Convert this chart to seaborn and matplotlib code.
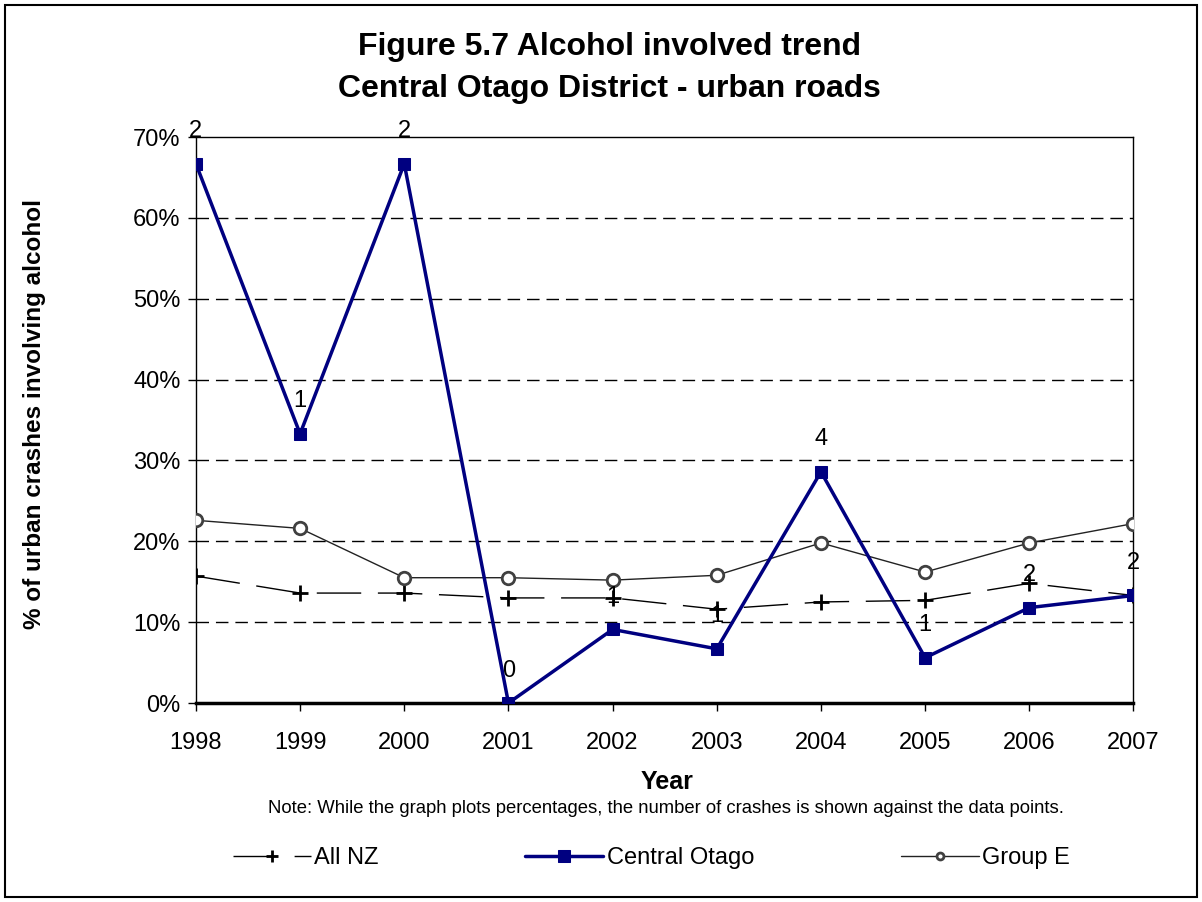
import numpy as np
import pandas as pd
import seaborn as sns
import matplotlib.pyplot as plt
from matplotlib.patches import Rectangle
from matplotlib.ticker import PercentFormatter

# data
years = [1998, 1999, 2000, 2001, 2002, 2003, 2004, 2005, 2006, 2007]
all_nz = [15.7, 13.6, 13.6, 13.0, 13.0, 11.6, 12.5, 12.7, 14.8, 13.3]
central_otago = [66.7, 33.3, 66.7, 0.0, 9.1, 6.7, 28.6, 5.6, 11.8, 13.3]
group_e = [22.6, 21.6, 15.5, 15.5, 15.2, 15.8, 19.8, 16.2, 19.8, 22.2]
crash_counts = [2, 1, 2, 0, 1, 1, 4, 1, 2, 2]

df = pd.DataFrame({
    "year": years,
    "All NZ": all_nz,
    "Central Otago": central_otago,
    "Group E": group_e,
})

sns.set_style("white")
plt.rcParams["font.family"] = ["Liberation Sans", "DejaVu Sans"]
plt.rcParams["text.color"] = "black"
plt.rcParams["axes.labelcolor"] = "black"
plt.rcParams["xtick.color"] = "black"
plt.rcParams["ytick.color"] = "black"

NZ_DASH = (32, 12)

fig = plt.figure(figsize=(12.02, 9.02), dpi=100)
ax = fig.add_axes([0.163, 0.2206, 0.78, 0.6274])

# horizontal grid
for v in range(10, 70, 10):
    ax.axhline(v, color="black", lw=1, ls=(0, (9, 5)), zorder=0)

sns.lineplot(data=df, x="year", y="All NZ", ax=ax, color="black", lw=1,
             marker="+", markersize=11, markeredgewidth=2, markeredgecolor="black",
             label="All NZ", zorder=2)
ax.lines[-1].set_dashes(NZ_DASH)

sns.lineplot(data=df, x="year", y="Group E", ax=ax, color="#222222", lw=1,
             marker="o", markersize=9, markerfacecolor="white",
             markeredgecolor="#404040", markeredgewidth=2, label="Group E", zorder=3)

sns.lineplot(data=df, x="year", y="Central Otago", ax=ax, color="#000080", lw=2.5,
             marker="s", markersize=9, markeredgecolor="#000080",
             label="Central Otago", zorder=4)

# crash counts above the Central Otago points
for x, y, n in zip(years, central_otago, crash_counts):
    ax.annotate(str(n), (x, y), xytext=(0, 19), textcoords="offset points",
                ha="center", va="baseline", fontsize=17, zorder=5,
                annotation_clip=False)

ax.set_xlim(1998, 2007)
ax.set_ylim(0, 70)
ax.set_xticks(years)
ax.set_yticks(range(0, 80, 10))
ax.yaxis.set_major_formatter(PercentFormatter(decimals=0))
ax.tick_params(axis="both", direction="out", length=6, width=1, labelsize=17,
               bottom=True, left=True, color="black")
ax.tick_params(axis="x", pad=15)
ax.tick_params(axis="y", pad=5)
for side in ["left", "right", "top"]:
    ax.spines[side].set_color("black")
    ax.spines[side].set_linewidth(1)
ax.spines["bottom"].set_color("black")
ax.spines["bottom"].set_linewidth(2.5)

ax.set_xlabel("Year", fontsize=18, fontweight="bold")
ax.set_ylabel("% of urban crashes involving alcohol", fontsize=17.5, fontweight="bold")
ax.xaxis.set_label_coords(0.503, -0.118)
ax.yaxis.set_label_coords(-0.16, 0.51)

fig.text(0.5067, 0.939, "Figure 5.7 Alcohol involved trend",
         ha="center", va="baseline", fontsize=23, fontweight="bold")
fig.text(0.5067, 0.8925, "Central Otago District - urban roads",
         ha="center", va="baseline", fontsize=23, fontweight="bold")
fig.text(0.554, 0.104,
         "Note: While the graph plots percentages, the number of crashes is shown against the data points.",
         ha="center", va="center", fontsize=13.3)

handles, labels = ax.get_legend_handles_labels()
order = [labels.index(l) for l in ["All NZ", "Central Otago", "Group E"]]
ax.get_legend().remove()
leg = fig.legend([handles[i] for i in order], [labels[i] for i in order],
                 loc="center", bbox_to_anchor=(0.542, 0.049), ncol=3, frameon=False,
                 fontsize=17, handlelength=3.3, columnspacing=6.2, handletextpad=0.15)
nz_h, co_h, ge_h = leg.legend_handles
nz_h.set_dashes(NZ_DASH)
nz_h.set_markersize(8)
nz_h.set_markeredgecolor("black")
co_h.set_markersize(8)
ge_h.set_markersize(5)

fig.patches.append(Rectangle((0.0045, 0.006), 0.991, 0.988, transform=fig.transFigure,
                             fill=False, edgecolor="black", lw=1.5))

fig.savefig("out.png", dpi=100)
